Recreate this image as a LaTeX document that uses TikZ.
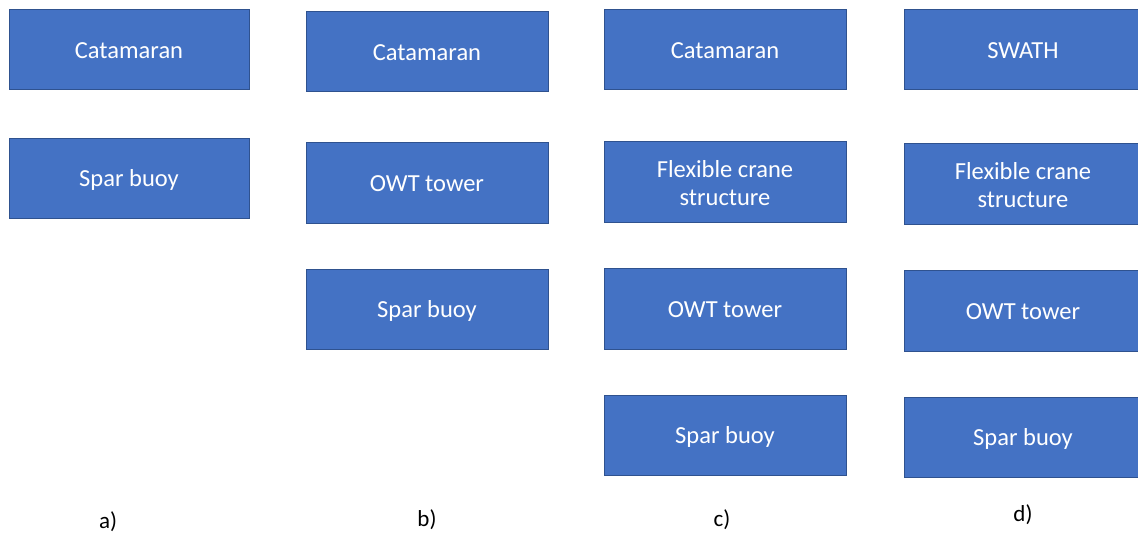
\documentclass[tikz,border=0pt]{standalone}
\usepackage{fontspec}
\setmainfont{Carlito}
\definecolor{boxfill}{HTML}{4472C4}
\definecolor{boxline}{HTML}{2F528F}
\begin{document}
\begin{tikzpicture}[x=1pt,y=-1pt,
  blk/.style={draw=boxline,line width=0.8pt,fill=boxfill},
  txt/.style={text=white,font=\fontsize{24.5}{28.5}\selectfont,align=center,yshift=-1.5pt},
  lbl/.style={font=\fontsize{23}{27}\selectfont,text=black}]
\useasboundingbox (0,0) rectangle (1138,534);
\clip (0,0) rectangle (1138,534);
% column a
\draw[blk] (9,9) rectangle (249,89) node[midway,txt] (a1) {Catamaran};
\draw[blk] (9,138) rectangle (249,218) node[midway,txt] (a2) {Spar buoy};
% column b
\draw[blk] (306,11) rectangle (548,91) node[midway,txt] (b1) {Catamaran};
\draw[blk] (306,142) rectangle (548,223) node[midway,txt] (b2) {OWT tower};
\draw[blk] (306,269) rectangle (548,349) node[midway,txt] (b3) {Spar buoy};
% column c
\draw[blk] (604,9) rectangle (846,89) node[midway,txt] (c1) {Catamaran};
\draw[blk] (604,141) rectangle (846,222) node[midway,txt] (c2) {Flexible crane\\structure};
\draw[blk] (604,268) rectangle (846,349) node[midway,txt] (c3) {OWT tower};
\draw[blk] (604,395) rectangle (846,475) node[midway,txt] (c4) {Spar buoy};
% column d
\draw[blk] (904,9) rectangle (1146,89) node[midway,txt,xshift=-2pt] (d1) {SWATH};
\draw[blk] (904,143) rectangle (1146,224) node[midway,txt,xshift=-2pt] (d2) {Flexible crane\\structure};
\draw[blk] (904,270) rectangle (1146,351) node[midway,txt,xshift=-2pt] (d3) {OWT tower};
\draw[blk] (904,397) rectangle (1146,477) node[midway,txt,xshift=-2pt] (d4) {Spar buoy};
% labels
\node[lbl] (la) at (108,522) {a)};
\node[lbl] (lb) at (427,520) {b)};
\node[lbl] (lc) at (722,520) {c)};
\node[lbl] (ld) at (1023,515) {d)};
\end{tikzpicture}
\end{document}
